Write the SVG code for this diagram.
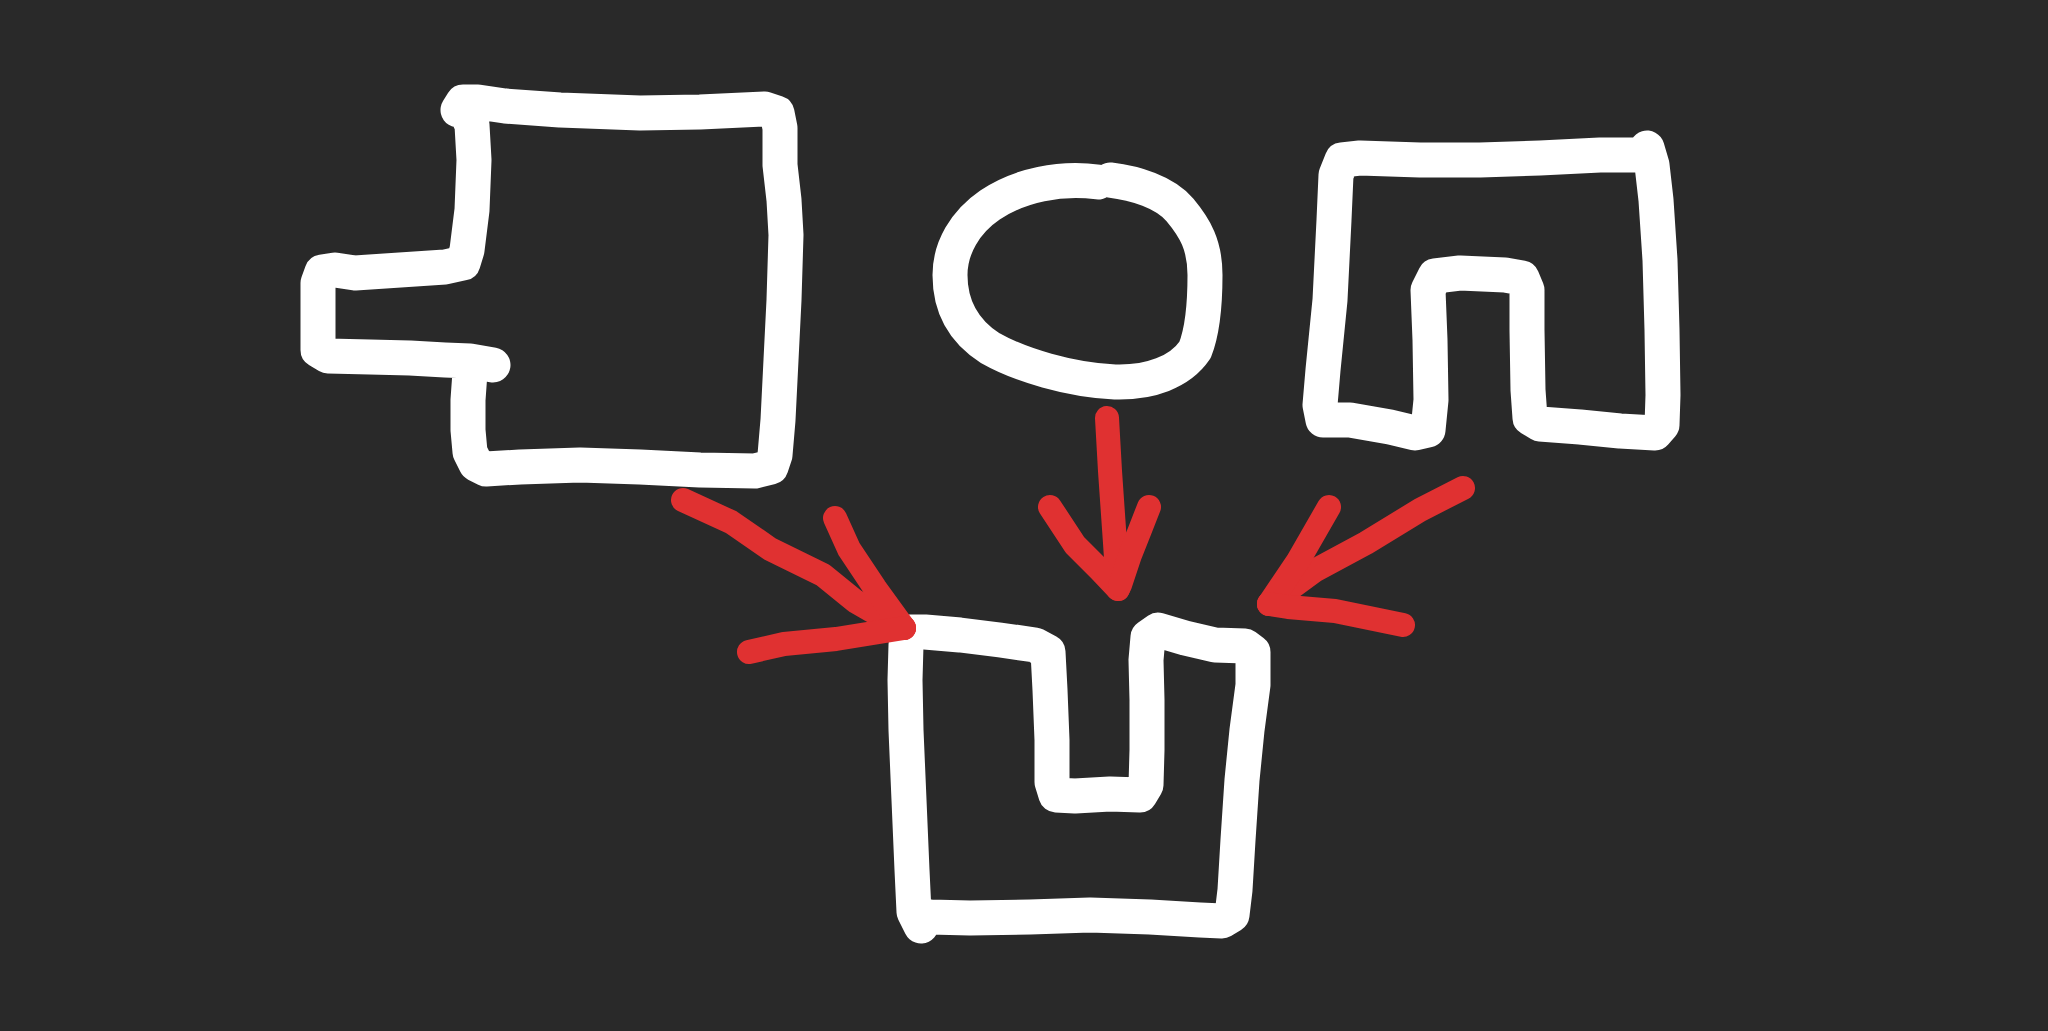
<svg xmlns="http://www.w3.org/2000/svg" width="2048" height="1031" viewBox="0 0 2048 1031">
<style>
.w{fill:none;stroke:#ffffff;stroke-width:35;stroke-linecap:round;stroke-linejoin:round}
.r{fill:none;stroke:#e03131;stroke-width:24;stroke-linecap:round;stroke-linejoin:round}
</style>
<rect x="0" y="0" width="2048" height="1031" fill="#292929"/>
<g id="shape-tab">
<path class="w" d="M458,110 L463,102 L478,102 L505,106 L560,110 L640,113 L700,112 L765,109 L777,113 L780,128 L780,165 L784,200 L786,235 L784,300 L781,360 L778,420 L775,455 L771,467 L755,471 L700,470 L640,467 L580,465 L520,467 L486,469 L476,464 L470,452 L468,430 L468,400 L470,372 M493,365 L470,361 L445,360 L410,358 L370,357 L328,356 L318,350 L318,320 L318,283 L322,272 L335,270 L355,273 L400,270 L445,267 L463,263 L467,250 L472,210 L474,160 L472,125 L467,114"/>
</g>
<g id="shape-circle">
<path class="w" d="M1098,182 C1060,177 1020,185 990,205 C965,222 950,248 950,275 C950,305 962,330 990,348 C1020,365 1070,380 1115,382 C1150,383 1180,372 1195,350 C1203,330 1205,300 1205,275 C1205,245 1195,228 1180,210 C1165,192 1135,183 1110,180"/>
</g>
<g id="shape-pants">
<path class="w" d="M1647,148 L1652,165 L1656,200 L1660,260 L1662,330 L1663,395 L1662,425 L1655,433 L1620,431 L1580,427 L1540,424 L1530,418 L1528,390 L1527,330 L1527,290 L1522,278 L1505,275 L1460,273 L1435,276 L1428,290 L1430,340 L1431,400 L1428,430 L1415,433 L1390,427 L1350,420 L1323,420 L1320,405 L1323,370 L1330,300 L1334,220 L1336,175 L1342,160 L1360,158 L1420,160 L1480,160 L1540,158 L1600,155 L1645,155"/>
</g>
<g id="shape-result">
<path class="w" d="M921,926 L914,912 L912,870 L909,800 L906,730 L905,680 L906,645 L910,632 L925,632 L960,635 L1000,640 L1035,645 L1048,652 L1050,690 L1052,740 L1052,782 L1056,795 L1075,796 L1110,794 L1140,795 L1146,785 L1147,750 L1147,700 L1146,660 L1148,637 L1158,630 L1185,638 L1215,645 L1245,646 L1253,652 L1253,685 L1247,730 L1242,780 L1238,840 L1235,890 L1232,915 L1222,921 L1200,920 L1150,917 L1090,915 L1030,917 L970,918 L930,917 L918,915"/>
</g>
<g id="connectors">
<path class="r" d="M683,500 L731,522 L770,549 L823,575 L855,601 L888,620 L904,628"/>
<path class="r" d="M835,518 L849,549 L875,588 L904,628"/>
<path class="r" d="M749,652 L784,644 L836,639 L904,628"/>
<path class="r" d="M1107,418 L1110,471 L1115,543 L1118,589"/>
<path class="r" d="M1050,507 L1075,545 L1100,570 L1118,589"/>
<path class="r" d="M1149,507 L1140,530 L1130,555 L1120,585"/>
<path class="r" d="M1463,488 L1420,510 L1366,543 L1314,571 L1269,604"/>
<path class="r" d="M1329,507 L1298,561 L1269,604"/>
<path class="r" d="M1403,625 L1335,611 L1288,607 L1269,604"/>
</g>
</svg>
